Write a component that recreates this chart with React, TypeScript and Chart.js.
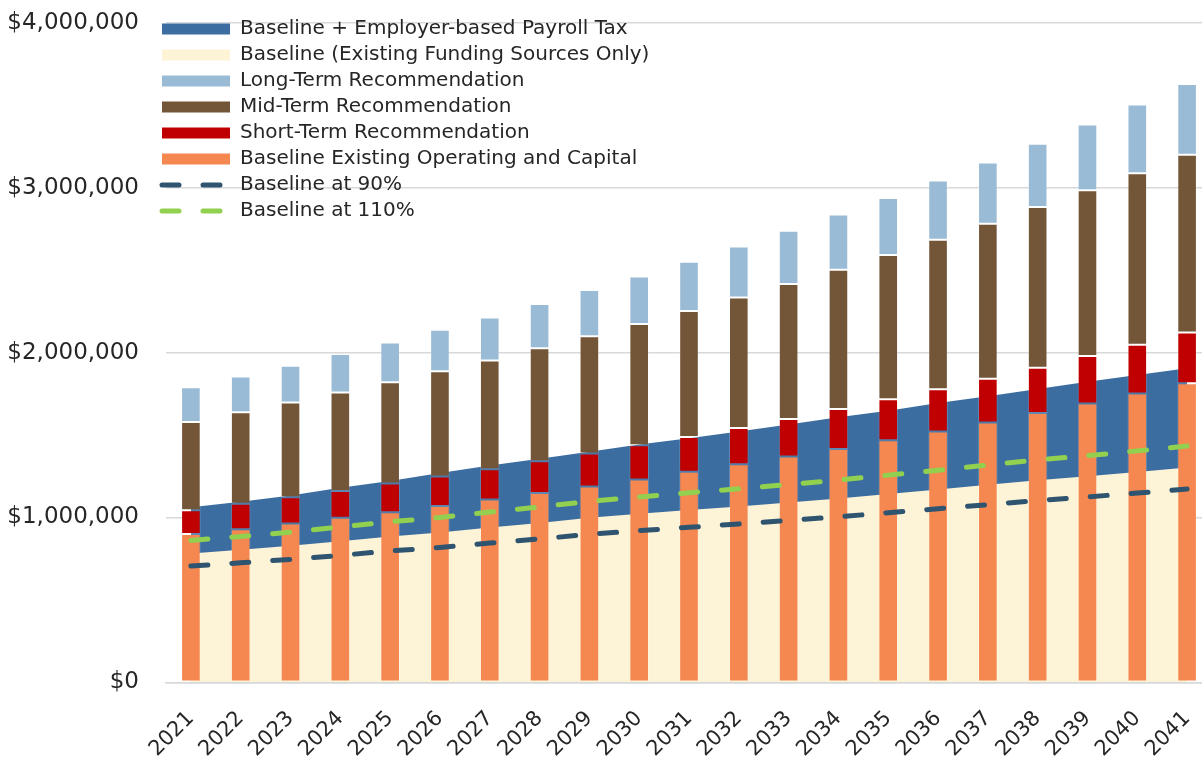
import React, { useEffect, useRef } from "react";
import { Chart, registerables } from "chart.js";

Chart.register(...registerables);

const years = [
  "2021", "2022", "2023", "2024", "2025", "2026", "2027", "2028", "2029", "2030",
  "2031", "2032", "2033", "2034", "2035", "2036", "2037", "2038", "2039", "2040", "2041",
];

const baselineWithPayroll = [
  1062000, 1096000, 1133000, 1180000, 1222000, 1270000, 1315000, 1357000, 1398000, 1442000,
  1481000, 1521000, 1564000, 1608000, 1648000, 1695000, 1735000, 1780000, 1824000, 1864000, 1905000,
];
const baselineExisting = [
  782000, 804000, 828000, 856000, 885000, 909000, 939000, 967000, 998000, 1022000,
  1045000, 1067000, 1091000, 1115000, 1143000, 1170000, 1198000, 1226000, 1250000, 1276000, 1303000,
];
const longTerm = [
  210000, 217000, 224000, 234000, 242000, 252000, 261000, 269000, 281000, 288000,
  299000, 309000, 323000, 335000, 347000, 359000, 371000, 384000, 398000, 416000, 430000,
];
const midTerm = [
  536000, 555000, 574000, 597000, 614000, 639000, 660000, 685000, 711000, 736000,
  763000, 792000, 818000, 845000, 875000, 907000, 940000, 974000, 1007000, 1041000, 1077000,
];
const shortTerm = [
  145000, 154000, 160000, 163000, 174000, 178000, 184000, 192000, 200000, 208000,
  212000, 220000, 228000, 242000, 249000, 257000, 266000, 275000, 288000, 296000, 309000,
];
const operatingCapital = [
  899000, 929000, 963000, 998000, 1032000, 1070000, 1109000, 1149000, 1188000, 1230000,
  1277000, 1323000, 1370000, 1416000, 1468000, 1521000, 1576000, 1634000, 1691000, 1752000, 1814000,
];
const baselineAt90 = [
  705000, 725000, 746000, 770000, 797000, 818000, 845000, 870000, 898000, 920000,
  940000, 961000, 982000, 1004000, 1029000, 1053000, 1078000, 1103000, 1125000, 1148000, 1173000,
];
const baselineAt110 = [
  861000, 885000, 911000, 942000, 974000, 1000000, 1033000, 1064000, 1098000, 1124000,
  1150000, 1174000, 1200000, 1227000, 1257000, 1287000, 1318000, 1349000, 1375000, 1404000, 1433000,
];

const yTicks = [0, 1000000, 2000000, 3000000, 4000000];

const FONT = "'DejaVu Sans', sans-serif";
const TEXT = "#262626";
const GRID = "#D9D9D9";
const DASH = [17, 24];
const LEGEND_FONT = 20;
const LEGEND_PAD = 6;

const legendPlace = {
  id: "legendPlace",
  afterLayout(chart: any) {
    const lg = chart.legend;
    if (lg) {
      const w = lg.width;
      const h = lg.height;
      lg.left = 156;
      lg.top = 13;
      lg.right = lg.left + w;
      lg.bottom = lg.top + h;
    }
  },
};

export default function App() {
  const ref = useRef<HTMLCanvasElement>(null);

  useEffect(() => {
    const barCommon = {
      type: "bar" as const,
      stack: "bars",
      borderColor: "rgba(255,255,255,0.18)",
      borderWidth: 1,
      borderSkipped: false,
      categoryPercentage: 0.394,
      barPercentage: 1,
      pointStyle: "rect",
    };
    const areaCommon = {
      type: "line" as const,
      fill: "origin",
      borderWidth: 0,
      pointRadius: 0,
      tension: 0,
      pointStyle: "rect",
    };
    const dashCommon = {
      type: "line" as const,
      fill: false,
      borderWidth: 5,
      borderDash: DASH,
      borderCapStyle: "round",
      pointRadius: 0,
      tension: 0,
      backgroundColor: "transparent",
    };

    const chart = new Chart(ref.current as HTMLCanvasElement, {
      data: {
        labels: years,
        datasets: [
          { ...areaCommon, label: "Baseline + Employer-based Payroll Tax", data: baselineWithPayroll, backgroundColor: "#3C6DA1", borderColor: "#3C6DA1", stack: "a1", order: 7 },
          { ...areaCommon, label: "Baseline (Existing Funding Sources Only)", data: baselineExisting, backgroundColor: "#FDF3D6", borderColor: "#FDF3D6", stack: "a2", order: 6 },
          { ...barCommon, label: "Long-Term Recommendation", data: longTerm, backgroundColor: "#9ABBD5", order: 5 },
          { ...barCommon, label: "Mid-Term Recommendation", data: midTerm, backgroundColor: "#735638", order: 4 },
          { ...barCommon, label: "Short-Term Recommendation", data: shortTerm, backgroundColor: "#C00000", order: 3 },
          { ...barCommon, label: "Baseline Existing Operating and Capital", data: operatingCapital, backgroundColor: "#F58750", order: 2 },
          { ...dashCommon, label: "Baseline at 90%", data: baselineAt90, borderColor: "#2E5470", stack: "l1", order: 0, pointStyle: "line" },
          { ...dashCommon, label: "Baseline at 110%", data: baselineAt110, borderColor: "#92D050", stack: "l2", order: 1, pointStyle: "line" },
        ] as any,
      },
      options: {
        responsive: false,
        animation: false,
        devicePixelRatio: 1,
        layout: { padding: { top: 23, left: 0, right: 0, bottom: 0 } },
        plugins: {
          tooltip: { enabled: false },
          legend: {
            position: "chartArea" as any,
            align: "start",
            labels: {
              usePointStyle: true,
              pointStyleWidth: 68,
              boxHeight: 11,
              padding: LEGEND_PAD,
              color: TEXT,
              font: { family: FONT, size: LEGEND_FONT },
              generateLabels: (ch: any) =>
                ch.data.datasets.map((ds: any, i: number) => {
                  const isDash = ds.type === "line" && !ds.fill;
                  return {
                    text: ds.label,
                    fillStyle: isDash ? "rgba(0,0,0,0)" : ds.backgroundColor,
                    strokeStyle: ds.borderColor,
                    lineWidth: isDash ? 5 : 0,
                    lineDash: isDash ? DASH : [],
                    lineCap: "round",
                    pointStyle: isDash ? "line" : "rect",
                    rotation: 0,
                    hidden: false,
                    fontColor: TEXT,
                    datasetIndex: i,
                  };
                }),
            },
          },
        },
        scales: {
          x: {
            stacked: true,
            offset: true,
            grid: { display: false, drawTicks: false },
            border: { display: true, color: GRID, width: 1.5 },
            ticks: {
              autoSkip: false,
              maxRotation: 45,
              minRotation: 45,
              padding: 24,
              color: TEXT,
              font: { family: FONT, size: 21 },
            },
            afterFit: (scale: any) => {
              scale.height = 78.7;
              scale.paddingLeft = 0;
              scale.paddingRight = 0;
            },
          },
          y: {
            stacked: true,
            min: 0,
            max: 4000000,
            afterBuildTicks: (scale: any) => {
              scale.ticks = yTicks.map((v) => ({ value: v }));
            },
            grid: { color: GRID, lineWidth: 1.5, drawTicks: false },
            border: { display: false },
            ticks: {
              padding: 27,
              color: TEXT,
              font: { family: FONT, size: 23 },
              callback: (v: any) => "$" + Number(v).toLocaleString("en-US"),
            },
            afterFit: (scale: any) => {
              scale.width = 166;
              scale.paddingTop = 0;
              scale.paddingBottom = 0;
            },
          },
        },
      } as any,
      plugins: [legendPlace],
    });
    return () => chart.destroy();
  }, []);

  return (
    <div
      style={{
        position: "fixed",
        left: 0,
        top: 0,
        width: 1202,
        height: 761,
        overflow: "hidden",
        background: "#fff",
      }}
    >
      <canvas ref={ref} width={1212} height={761} style={{ display: "block", width: 1212, height: 761 }} />
    </div>
  );
}
